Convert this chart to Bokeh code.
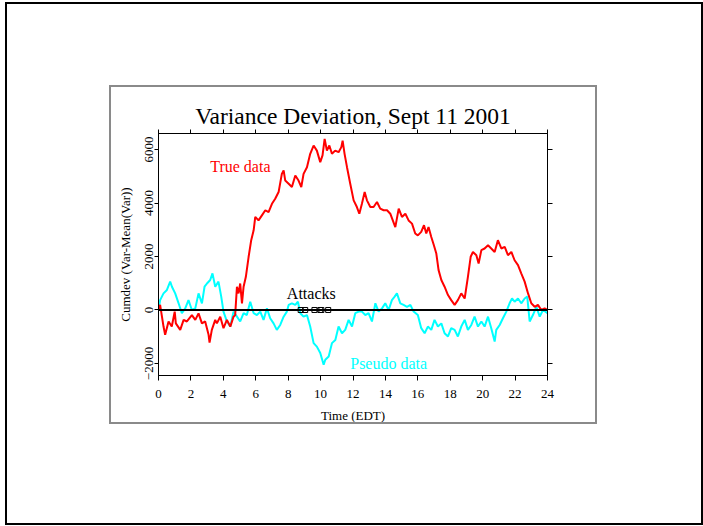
from bokeh.plotting import figure
from bokeh.models import Range1d, LinearAxis, FixedTicker, Label, Span, InlineStyleSheet
from bokeh.embed import file_html
from bokeh.resources import INLINE

# ---------------- data ----------------
true_hours = [0.0, 0.1, 0.31, 0.41, 0.62, 0.82, 1.0, 1.07, 1.34, 1.55, 1.75, 2.06, 2.27, 2.47, 2.68,
              2.88, 3.09, 3.15, 3.29, 3.5, 3.6, 3.81, 4.01, 4.22, 4.43, 4.63, 4.73, 4.84, 4.94, 5.04,
              5.15, 5.25, 5.39, 5.56, 5.72, 5.87, 5.97, 6.17, 6.38, 6.59, 6.79, 7.0, 7.2, 7.41, 7.61,
              7.72, 7.82, 8.03, 8.23, 8.44, 8.64, 8.81, 8.95, 9.16, 9.36, 9.57, 9.77, 9.98, 10.12,
              10.25, 10.39, 10.54, 10.7, 10.9, 11.11, 11.28, 11.36, 11.48, 11.63, 11.83, 12.04,
              12.24, 12.39, 12.55, 12.72, 12.86, 13.07, 13.27, 13.48, 13.68, 13.89, 14.1, 14.3,
              14.61, 14.82, 15.02, 15.23, 15.43, 15.64, 15.84, 16.0, 16.21, 16.38, 16.52, 16.66,
              16.83, 16.99, 17.14, 17.28, 17.45, 17.65, 17.86, 18.06, 18.27, 18.47, 18.68, 18.89,
              19.09, 19.26, 19.4, 19.61, 19.75, 19.92, 20.12, 20.33, 20.53, 20.74, 20.94, 21.15,
              21.36, 21.56, 21.77, 21.97, 22.18, 22.38, 22.59, 22.8, 23.0, 23.21, 23.41, 23.62,
              23.82, 24.0]
true_cumdev = [0, 190, -620, -930, -430, -620, -60, -500, -745, -370, -430, -190, -370, -125, -500,
               -430, -930, -1220, -745, -370, -500, -250, -680, -370, -620, -250, -190, 870, 620, 990,
               250, 870, 1240, 1990, 2610, 2980, 3480, 3350, 3540, 3730, 3660, 3970, 4160, 4410, 5090,
               5220, 4840, 4720, 4600, 5030, 4840, 4600, 5090, 5340, 5840, 6150, 5960, 5530, 5780,
               6400, 5960, 6150, 5840, 5960, 5900, 6090, 6330, 5840, 5340, 4720, 4100,
               3850, 3600, 3970, 4410, 4100, 3850, 3850, 4040, 3790, 3730, 3730, 3600,
               3100, 3790, 3480, 3600, 3350, 3230, 2860, 2790, 2920, 3170, 2860, 3100,
               2730, 2420, 2110, 1490, 1120, 870, 560, 370, 190, 370, 620, 430,
               1240, 1990, 2170, 2050, 1740, 2240, 2300, 2420, 2300, 2170, 2610, 2300,
               2360, 2050, 2170, 1860, 1680, 1370, 1060, 620, 250, 120, 190, 0,
               60, 0]

pseudo_hours = [0.0, 0.1, 0.31, 0.52, 0.72, 0.83, 1.03, 1.24, 1.44, 1.65, 1.85, 2.06, 2.27, 2.47,
                2.68, 2.84, 2.99, 3.19, 3.33, 3.5, 3.7, 3.87, 4.01, 4.22, 4.43, 4.63, 4.84, 5.04,
                5.25, 5.45, 5.66, 5.87, 6.07, 6.28, 6.48, 6.69, 6.89, 7.1, 7.3, 7.51, 7.72, 7.92,
                8.03, 8.23, 8.44, 8.6, 8.75, 8.95, 9.16, 9.36, 9.57, 9.77, 9.98, 10.19, 10.29, 10.5,
                10.7, 10.91, 11.11, 11.32, 11.52, 11.73, 11.94, 12.14, 12.35, 12.55, 12.76, 12.96,
                13.17, 13.38, 13.58, 13.79, 13.99, 14.2, 14.4, 14.57, 14.71, 14.92, 15.12, 15.33,
                15.54, 15.74, 16.0, 16.21, 16.42, 16.62, 16.83, 17.03, 17.24, 17.45, 17.65, 17.86,
                18.06, 18.27, 18.47, 18.68, 18.89, 19.09, 19.3, 19.5, 19.71, 19.92, 20.12, 20.33,
                20.53, 20.74, 20.84, 21.05, 21.25, 21.46, 21.66, 21.81, 21.97, 22.18, 22.38, 22.59,
                22.75, 22.9, 23.1, 23.31, 23.52, 23.72, 24.0]
pseudo_cumdev = [0, 370, 620, 750, 1060, 870, 620, 250, -120, 60, 370, 0, 60, 620,
                 250, 870, 990, 1120, 1370, 870, 1060, 500, -60, -430, -620, -60, -250, -430,
                 -120, -190, 310, -120, -190, -60, -370, 60, -310, -500, -745, -560, -250, -60,
                 190, 250, 190, 310, -120, -250, -190, -620, -1240, -1370, -1610, -2050, -1860, -1740,
                 -1240, -1120, -620, -870, -745, -370, -620, -120, -60, -60, -190, -120,
                 -430, 250, -60, 60, 250, 0, 370, 500, 620, 250, 190, 120,
                 190, -60, -190, -680, -870, -620, -745, -370, -620, -500, -870, -990,
                 -680, -745, -990, -620, -370, -745, -560, -250, -620, -430, -620, -250,
                 -680, -1180, -745, -560, -310, -60, 250, 430, 310, 430, 250, 430,
                 500, -430, -190, 120, -250, 0, -120]

attack_hours = [8.77, 9.05, 9.62, 9.98, 10.05, 10.47]
attack_level = [0, 0, 0, 0, 0, 0]

x_ticks = [0, 2, 4, 6, 8, 10, 12, 14, 16, 18, 20, 22, 24]
y_ticks = [-2000, 0, 2000, 4000, 6000]

# ---------------- layout ----------------
FONT = "Liberation Serif"
W, H = 703, 526
L, R, T, B = 158, 156, 133, 151
X0, X1 = 0, 24
Y0, Y1 = -2450, 6600

frames_css = InlineStyleSheet(css="""
:host { position: relative; }
:host::before {
  content: ""; position: absolute; box-sizing: border-box;
  left: 5px; top: 2px; width: 698px; height: 523px;
  border: 2px solid #000000; pointer-events: none; z-index: 20;
}
:host::after {
  content: ""; position: absolute; box-sizing: border-box;
  left: 109px; top: 85px; width: 488px; height: 339px;
  border: 2px solid #8a8a8a; pointer-events: none; z-index: 20;
}
""")

p = figure(width=W, height=H, x_range=Range1d(X0, X1), y_range=Range1d(Y0, Y1),
           output_backend="svg", toolbar_location=None,
           x_axis_location=None, y_axis_location=None,
           min_border_left=L, min_border_right=R, min_border_top=T, min_border_bottom=B,
           stylesheets=[frames_css])
p.background_fill_color = "white"
p.border_fill_color = "white"
p.outline_line_color = "black"
p.outline_line_width = 1
p.xgrid.grid_line_color = None
p.ygrid.grid_line_color = None

p.title.text = "Variance Deviation, Sept 11 2001"
p.title.text_font = FONT
p.title.text_font_size = "23.5px"
p.title.text_font_style = "normal"
p.title.text_color = "black"
p.title.align = "center"
p.title.standoff = 2


def make_axis(ticks, labels):
    ax = LinearAxis(ticker=FixedTicker(ticks=ticks, minor_ticks=[]))
    ax.axis_line_color = "black"
    ax.axis_line_width = 1
    ax.major_tick_line_color = "black"
    ax.major_tick_out = 5
    ax.major_tick_in = 0
    ax.minor_tick_out = 0
    ax.minor_tick_in = 0
    ax.major_label_text_font = FONT
    ax.axis_label_text_font = FONT
    ax.axis_label_text_font_size = "13px"
    ax.axis_label_text_font_style = "normal"
    ax.axis_label_text_color = "black"
    if labels:
        ax.major_label_text_font_size = "13px"
        ax.major_label_text_color = "black"
    else:
        ax.major_label_text_font_size = "0px"
        ax.major_label_text_color = None
        ax.major_label_standoff = 0
    return ax


bottom = make_axis(x_ticks, True)
bottom.major_label_standoff = 9
bottom.axis_label = "Time (EDT)"
bottom.axis_label_standoff = 7
p.add_layout(bottom, "below")

top = make_axis(x_ticks, False)
top.major_tick_out = 4
p.add_layout(top, "above")

left = make_axis(y_ticks, True)
left.major_tick_out = 4
left.major_label_orientation = "vertical"
left.major_label_standoff = 1
left.axis_label = "Cumdev (Var-Mean(Var))"
left.axis_label_standoff = 10
p.add_layout(left, "left")

right = make_axis(y_ticks, False)
p.add_layout(right, "right")

# data lines
p.line(pseudo_hours, pseudo_cumdev, line_color="#00ffff", line_width=2)
p.line(true_hours, true_cumdev, line_color="#ff0000", line_width=2)
p.add_layout(Span(location=0, dimension="width", line_color="black", line_width=2))
p.scatter(attack_hours, attack_level, marker="square", size=5, fill_color=None,
          line_color="black", line_width=1)

# text annotations
p.add_layout(Label(x=3.19, y=5365, text="True data", text_font=FONT, text_font_size="16px",
                   text_baseline="alphabetic", text_color="#ff0000"))
p.add_layout(Label(x=7.92, y=598, text="Attacks", text_font=FONT, text_font_size="16px",
                   text_baseline="alphabetic", text_color="black"))
p.add_layout(Label(x=11.83, y=-1995, text="Pseudo data", text_font=FONT, text_font_size="16px",
                   text_baseline="alphabetic", text_color="#00ffff"))

open("out.html", "w").write(file_html(p, INLINE))
